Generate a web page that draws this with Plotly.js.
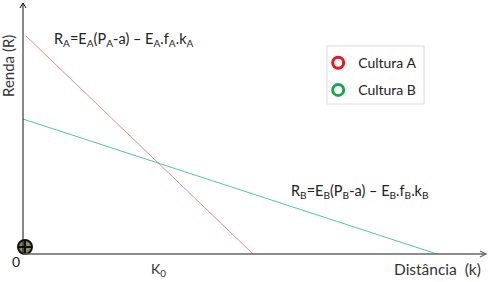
<!DOCTYPE html>
<html><head><meta charset="utf-8">
<script src="https://cdn.plot.ly/plotly-3.0.1.min.js"></script>
<style>html,body{margin:0;padding:0;background:#fff}#c{width:488px;height:282px}</style>
</head><body><div id="c"></div>
<script>
// Data (distance k vs renda R, arbitrary units)
const distA = [3, 230];
const rendaA = [218, 0];
const distB = [0, 414];
const rendaB = [135, 0];
const originX = [2];
const originY = [7];
const seriesNames = ["Cultura A", "Cultura B"];
const formulaA = "R<sub>A</sub>=E<sub>A</sub>(P<sub>A</sub>-a) – E<sub>A</sub>.f<sub>A</sub>.k<sub>A</sub>";
const formulaB = "R<sub>B</sub>=E<sub>B</sub>(P<sub>B</sub>-a) – E<sub>B</sub>.f<sub>B</sub>.k<sub>B</sub>";
const k0Label = "K<sub>0</sub>";
const k0Pos = 135;

const FONT = "Lato, 'Open Sans', sans-serif";
const traces = [
  {x: distA, y: rendaA, mode: "lines", line: {color: "#ec8a8a", width: 1}, showlegend: false, hoverinfo: "skip"},
  {x: distB, y: rendaB, mode: "lines", line: {color: "#52c9a0", width: 1}, showlegend: false, hoverinfo: "skip"},
  {x: originX, y: originY, mode: "markers", showlegend: false,
   marker: {symbol: "circle-cross", size: 14, color: "#8c8c5e", line: {color: "#111", width: 2}}},
  {x: [null], y: [null], mode: "markers", name: seriesNames[0], legendgroup: "a",
   marker: {symbol: "circle-open", size: 11, color: "#e8191e", line: {width: 3}}},
  {x: [null], y: [null], mode: "markers", name: seriesNames[1], legendgroup: "b",
   marker: {symbol: "circle-open", size: 11, color: "#17a84a", line: {width: 3}}}
];

const layout = {
  width: 488, height: 282,
  margin: {l: 0, r: 0, t: 0, b: 0},
  paper_bgcolor: "#fff", plot_bgcolor: "#fff",
  xaxis: {range: [-23, 465], visible: false, fixedrange: true},
  yaxis: {range: [-28, 254], visible: false, fixedrange: true},
  showlegend: true,
  legend: {x: 0.652, y: 0.833, xanchor: "left", yanchor: "top", bgcolor: "rgba(0,0,0,0)",
    borderwidth: 0, font: {family: FONT, size: 14, color: "#222"}, tracegroupgap: 6, itemwidth: 30},
  shapes: [
    {type: "rect", xref: "paper", yref: "paper", x0: 327/488, x1: 424/488, y0: 1-104/282, y1: 1-46/282,
     line: {color: "#dcdcdc", width: 1}, fillcolor: "rgba(0,0,0,0)"},
    {type: "line", xref: "x", yref: "y", x0: 0, y0: 0, x1: 0, y1: 251, line: {color: "#111", width: 1}},
    {type: "line", xref: "x", yref: "y", x0: 0, y0: 0, x1: 463, y1: 0, line: {color: "#666", width: 1.5}},
    {type: "path", xref: "x", yref: "y", path: "M -3,246 L 0,251 L 3,246", line: {color: "#111", width: 1}},
    {type: "path", xref: "x", yref: "y", path: "M 457,3 L 463,0 L 457,-3", line: {color: "#666", width: 1.2}}
  ],
  annotations: [
    {text: formulaA, x: 52/488, y: 1-40/282, xref: "paper", yref: "paper", xanchor: "left", yanchor: "middle",
     showarrow: false, font: {family: FONT, size: 14.5, color: "#222"}},
    {text: formulaB, x: 289/488, y: 1-191/282, xref: "paper", yref: "paper", xanchor: "left", yanchor: "middle",
     showarrow: false, font: {family: FONT, size: 14.5, color: "#222"}},
    {text: "0", x: 16/488, y: 1-261/282, xref: "paper", yref: "paper", xanchor: "center", yanchor: "middle",
     showarrow: false, font: {family: FONT, size: 14, color: "#222"}},
    {text: k0Label, x: k0Pos, xref: "x", y: 1-269/282, yref: "paper", xanchor: "center", yanchor: "middle",
     showarrow: false, font: {family: FONT, size: 14, color: "#333"}},
    {text: "Distância  (k)", x: 483/488, y: 1-269/282, xref: "paper", yref: "paper", xanchor: "right", yanchor: "middle",
     showarrow: false, font: {family: FONT, size: 15.5, color: "#333"}},
    {text: "Renda (R)", x: 8/488, y: 1-66/282, xref: "paper", yref: "paper", xanchor: "center", yanchor: "middle",
     textangle: -90, showarrow: false, font: {family: FONT, size: 15, color: "#333"}}
  ]
};
Plotly.newPlot("c", traces, layout, {displayModeBar: false, staticPlot: true});
</script></body></html>
